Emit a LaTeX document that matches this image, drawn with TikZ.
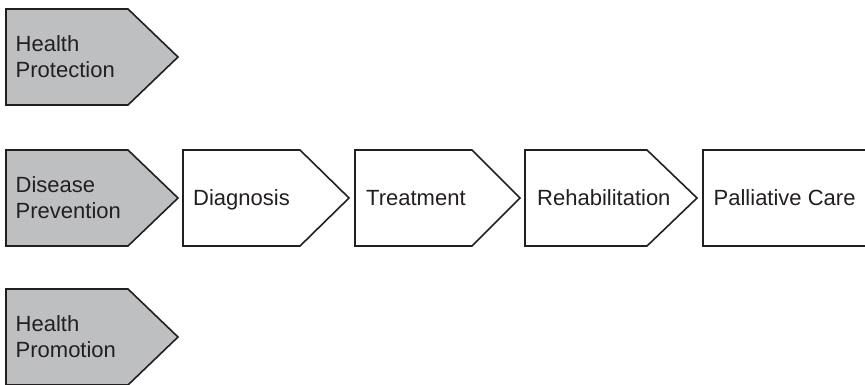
\documentclass[tikz,border=0pt]{standalone}
\usepackage{fontspec}
\setmainfont{Liberation Sans}
\definecolor{boxgray}{RGB}{190,191,193}
\definecolor{ink}{RGB}{35,31,32}
\begin{document}
\begin{tikzpicture}[x=1pt,y=-1pt,
  chev/.style={draw=ink,line width=1.6pt,line join=miter},
  grayfill/.style={chev,fill=boxgray},
  whitefill/.style={chev,fill=white},
  lbl/.style={align=left,inner sep=0pt,text=ink,font=\fontsize{22}{26}\selectfont},
  twol/.style={lbl,anchor=west},
  onel/.style={lbl,anchor=base west}]
\clip (0,0) rectangle (865,384);
\fill[white] (0,0) rectangle (865,384);
% row 1
\draw[grayfill] (6,9) -- (128,9) -- (178,57) -- (128,105) -- (6,105) -- cycle;
\node[twol] (hp) at (15.5,57) {Health\\Protection};
% row 2
\draw[grayfill] (6,150) -- (128,150) -- (178,198) -- (128,246) -- (6,246) -- cycle;
\node[twol] (dp) at (15.5,198) {Disease\\Prevention};
\draw[whitefill] (183,150) -- (300,150) -- (349,198) -- (300,246) -- (183,246) -- cycle;
\node[onel] (dg) at (193,205.5) {Diagnosis};
\draw[whitefill] (355,150) -- (472,150) -- (520,198) -- (472,246) -- (355,246) -- cycle;
\node[onel] (tr) at (366,205.5) {Treatment};
\draw[whitefill] (525,150) -- (647,150) -- (697,198) -- (647,246) -- (525,246) -- cycle;
\node[onel] (rh) at (537,205.5) {Rehabilitation};
\draw[whitefill] (703,150) rectangle (880,246);
\node[onel] (pc) at (713.5,205.5) {Palliative Care};
% row 3
\draw[grayfill] (6,289) -- (128,289) -- (178,337) -- (128,385) -- (6,385) -- cycle;
\node[twol] (hm) at (15.5,337) {Health\\Promotion};
\end{tikzpicture}
\end{document}
